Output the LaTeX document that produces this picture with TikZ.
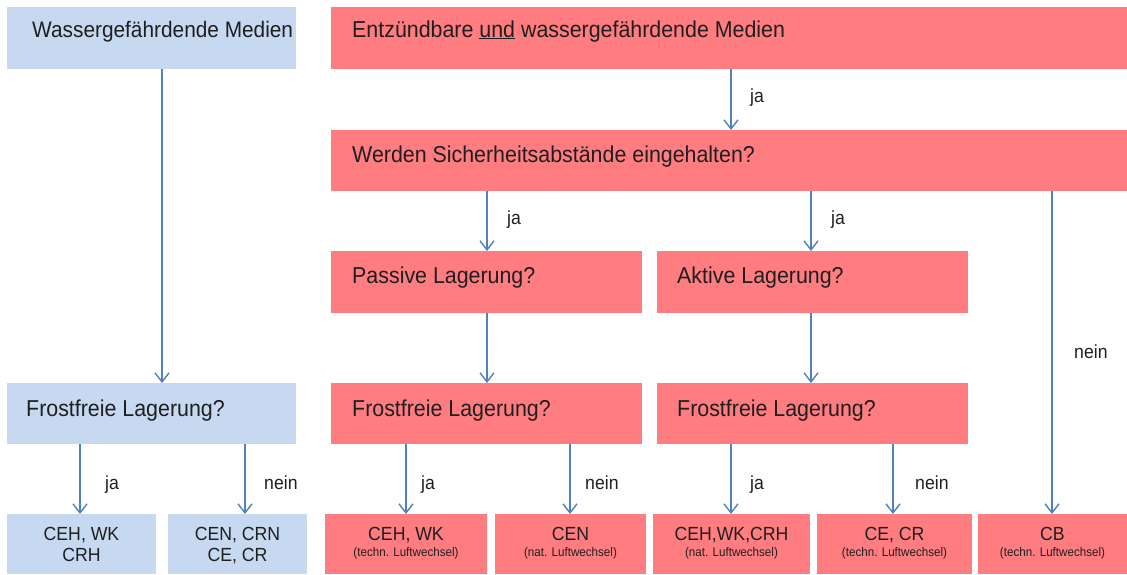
\documentclass[tikz,border=0pt]{standalone}
\usepackage{fontspec}
\setmainfont{Liberation Sans}[FakeStretch=0.93]
\usetikzlibrary{arrows.meta}
\definecolor{bfill}{HTML}{C6D9F1}
\definecolor{rfill}{HTML}{FF7C80}
\definecolor{arrc}{HTML}{4F81BD}
\definecolor{txt}{HTML}{1F1F1F}
\tikzset{
 box/.style={anchor=north west, inner sep=0, outer sep=0, draw=none},
 bluebox/.style={box, fill=bfill},
 redbox/.style={box, fill=rfill},
 big/.style={anchor=base west, inner sep=0, text=txt, font=\fontsize{23}{27}\selectfont},
 res/.style={anchor=base, inner sep=0, text=txt, font=\fontsize{19}{22}\selectfont},
 small/.style={anchor=base, inner sep=0, text=txt, font=\fontsize{12.5}{14}\selectfont},
 lbl/.style={anchor=base west, inner sep=0, text=txt, font=\fontsize{19}{22}\selectfont},
 arr/.style={draw=arrc, line width=1.4pt, -{Straight Barb[length=9pt,width=14pt]}},
}
\begin{document}
\begin{tikzpicture}[x=1pt,y=-1pt]
\useasboundingbox (0,0) rectangle (1127,574);
\fill[white] (0,0) rectangle (1127,574);
% boxes
\node[bluebox, minimum width=289pt, minimum height=62pt] (wm) at (7,7) {};
\node[redbox, minimum width=796pt, minimum height=62pt] (ez) at (331,7) {};
\node[redbox, minimum width=796pt, minimum height=61pt] (we) at (331,130) {};
\node[redbox, minimum width=311pt, minimum height=62pt] (pl) at (331,251) {};
\node[redbox, minimum width=311pt, minimum height=62pt] (al) at (657,251) {};
\node[bluebox, minimum width=289pt, minimum height=61pt] (ffb) at (7,383) {};
\node[redbox, minimum width=311pt, minimum height=61pt] (ffp) at (331,383) {};
\node[redbox, minimum width=311pt, minimum height=61pt] (ffa) at (657,383) {};
\node[bluebox, minimum width=149pt, minimum height=60pt] (r1) at (7,514) {};
\node[bluebox, minimum width=139pt, minimum height=60pt] (r2) at (168,514) {};
\node[redbox, minimum width=162pt, minimum height=60pt] (r3) at (325,514) {};
\node[redbox, minimum width=151pt, minimum height=60pt] (r4) at (495,514) {};
\node[redbox, minimum width=157pt, minimum height=60pt] (r5) at (653,514) {};
\node[redbox, minimum width=155pt, minimum height=60pt] (r6) at (817,514) {};
\node[redbox, minimum width=149pt, minimum height=60pt] (r7) at (978,514) {};
% texts
\node[big, font=\fontsize{22.4}{26}\selectfont] (twm) at (32,37) {Wassergefährdende Medien};
\node[big] (tez) at (352,37) {Entzündbare \underline{und} wassergefährdende Medien};
\node[big] (twe) at (352,162) {Werden Sicherheitsabstände eingehalten?};
\node[big] (tpl) at (352,283) {Passive Lagerung?};
\node[big] (tal) at (677,283) {Aktive Lagerung?};
\node[big] (tffb) at (26,416) {Frostfreie Lagerung?};
\node[big] (tffp) at (352,416) {Frostfreie Lagerung?};
\node[big] (tffa) at (677,416) {Frostfreie Lagerung?};
\node[res] (tr1a) at (81.5,540) {CEH, WK};
\node[res] (tr1b) at (81.5,561) {CRH};
\node[res] (tr2a) at (237.5,540) {CEN, CRN};
\node[res] (tr2b) at (237.5,561) {CE, CR};
\node[res] (tr3a) at (406,540) {CEH, WK};
\node[small] (tr3b) at (406,556) {(techn. Luftwechsel)};
\node[res] (tr4a) at (570.5,540) {CEN};
\node[small] (tr4b) at (570.5,556) {(nat. Luftwechsel)};
\node[res] (tr5a) at (731.5,540) {CEH,WK,CRH};
\node[small] (tr5b) at (731.5,556) {(nat. Luftwechsel)};
\node[res] (tr6a) at (894.5,540) {CE, CR};
\node[small] (tr6b) at (894.5,556) {(techn. Luftwechsel)};
\node[res] (tr7a) at (1052.5,540) {CB};
\node[small] (tr7b) at (1052.5,556) {(techn. Luftwechsel)};
% columns
\coordinate (c1) at (162,0);
\coordinate (c2) at (731,0);
\coordinate (c3) at (487,0);
\coordinate (c4) at (811,0);
\coordinate (c5) at (1052,0);
\coordinate (d1) at (80,0);
\coordinate (d2) at (245,0);
\coordinate (d3) at (406,0);
\coordinate (d4) at (570,0);
\coordinate (d5) at (731,0);
\coordinate (d6) at (893,0);
% arrows
\draw[arr] (wm.south -| c1) -- (ffb.north -| c1);
\draw[arr] (ez.south -| c2) -- (we.north -| c2);
\draw[arr] (we.south -| c3) -- (pl.north -| c3);
\draw[arr] (we.south -| c4) -- (al.north -| c4);
\draw[arr] (we.south -| c5) -- (r7.north -| c5);
\draw[arr] (pl.south -| c3) -- (ffp.north -| c3);
\draw[arr] (al.south -| c4) -- (ffa.north -| c4);
\draw[arr] (ffb.south -| d1) -- (r1.north -| d1);
\draw[arr] (ffb.south -| d2) -- (r2.north -| d2);
\draw[arr] (ffp.south -| d3) -- (r3.north -| d3);
\draw[arr] (ffp.south -| d4) -- (r4.north -| d4);
\draw[arr] (ffa.south -| d5) -- (r5.north -| d5);
\draw[arr] (ffa.south -| d6) -- (r6.north -| d6);
% labels
\node[lbl] (l1) at (750,102) {ja};
\node[lbl] (l2) at (507,224) {ja};
\node[lbl] (l3) at (831,224) {ja};
\node[lbl] (l4) at (1074,358) {nein};
\node[lbl] (l5) at (105,489) {ja};
\node[lbl] (l6) at (264,489) {nein};
\node[lbl] (l7) at (421,489) {ja};
\node[lbl] (l8) at (585,489) {nein};
\node[lbl] (l9) at (750,489) {ja};
\node[lbl] (l10) at (915,489) {nein};
\end{tikzpicture}
\end{document}
